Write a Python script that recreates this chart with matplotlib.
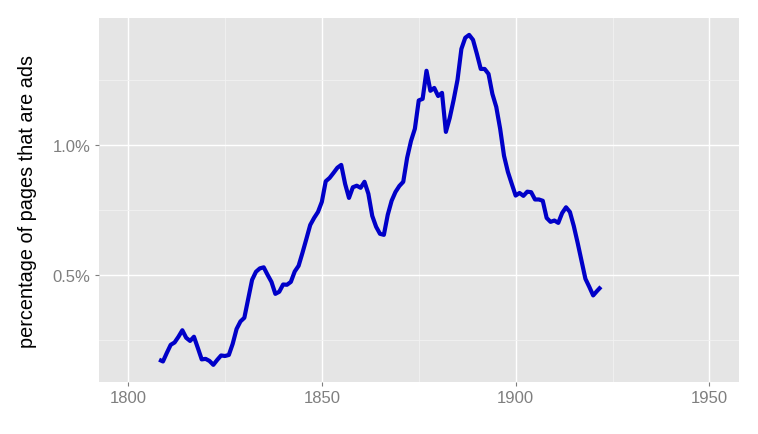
import matplotlib
matplotlib.use('Agg')
import matplotlib.pyplot as plt
from matplotlib.ticker import FixedLocator, FuncFormatter

years = list(range(1808, 1923))

# percentage of pages that are ads, one value per year
ad_pct = [
    0.174, 0.167, 0.200, 0.231, 0.240, 0.262, 0.287, 0.258, 0.246, 0.262,  # 1808-1817
    0.219, 0.175, 0.177, 0.169, 0.154, 0.173, 0.190, 0.188, 0.192, 0.235,  # 1818-1827
    0.292, 0.321, 0.335, 0.408, 0.481, 0.512, 0.525, 0.529, 0.500, 0.473,  # 1828-1837
    0.427, 0.435, 0.463, 0.462, 0.473, 0.513, 0.535, 0.585, 0.638, 0.692,  # 1838-1847
    0.719, 0.742, 0.781, 0.860, 0.873, 0.892, 0.912, 0.923, 0.850, 0.796,  # 1848-1857
    0.837, 0.843, 0.835, 0.858, 0.812, 0.727, 0.685, 0.658, 0.654, 0.731,  # 1858-1867
    0.785, 0.819, 0.842, 0.858, 0.950, 1.015, 1.062, 1.171, 1.177, 1.285,  # 1868-1877
    1.208, 1.219, 1.188, 1.200, 1.050, 1.104, 1.173, 1.250, 1.369, 1.412,  # 1878-1887
    1.423, 1.404, 1.350, 1.292, 1.292, 1.273, 1.196, 1.146, 1.062, 0.958,  # 1888-1897
    0.896, 0.850, 0.805, 0.815, 0.804, 0.820, 0.818, 0.790, 0.790, 0.785,  # 1898-1907
    0.719, 0.704, 0.709, 0.700, 0.738, 0.760, 0.742, 0.688, 0.623, 0.554,  # 1908-1917
    0.485, 0.454, 0.421, 0.438, 0.454,                                     # 1918-1922
]

x_major = [1800, 1850, 1900, 1950]
x_minor = [1825, 1875, 1925]
y_major = [0.5, 1.0]
y_minor = [0.25, 0.75, 1.25]


def main():
    plt.rcParams['font.family'] = ['Liberation Sans', 'DejaVu Sans']

    fig = plt.figure(figsize=(7.58, 4.35), dpi=100)
    W, H = 758, 435
    left, right, top, bottom = 99, 738.5, 19, 383
    ax = fig.add_axes([left / W, (H - bottom) / H, (right - left) / W, (bottom - top) / H])

    ax.set_facecolor('#E5E5E5')
    for s in ax.spines.values():
        s.set_visible(False)

    ax.plot(years, ad_pct, color='#0000C8', lw=3, solid_joinstyle='round',
            solid_capstyle='butt', zorder=3)

    ax.set_xlim(1792.5, 1957.5)
    ax.set_ylim(0.088, 1.488)

    ax.xaxis.set_major_locator(FixedLocator(x_major))
    ax.xaxis.set_minor_locator(FixedLocator(x_minor))
    ax.yaxis.set_major_locator(FixedLocator(y_major))
    ax.yaxis.set_minor_locator(FixedLocator(y_minor))
    ax.yaxis.set_major_formatter(FuncFormatter(lambda v, p: f'{v:.1f}%'))

    ax.grid(which='major', color='white', lw=1.0, zorder=1)
    ax.grid(which='minor', color='#F2F2F2', lw=0.6, zorder=1)
    ax.set_axisbelow(True)

    ax.tick_params(which='major', length=3, width=0.8, color='#7F7F7F',
                   labelcolor='#7F7F7F', labelsize=12)
    ax.tick_params(axis='x', which='major', pad=3)
    ax.tick_params(axis='y', which='major', pad=3)
    ax.tick_params(which='minor', length=0)

    ax.set_ylabel('percentage of pages that are ads', fontsize=14.3, color='black')
    ax.yaxis.set_label_coords(-(left - 27.5) / (right - left), 0.5)
    ax.yaxis.label.set_verticalalignment('center')

    fig.savefig('out.png', dpi=100, facecolor='white')


if __name__ == "__main__":
    main()
